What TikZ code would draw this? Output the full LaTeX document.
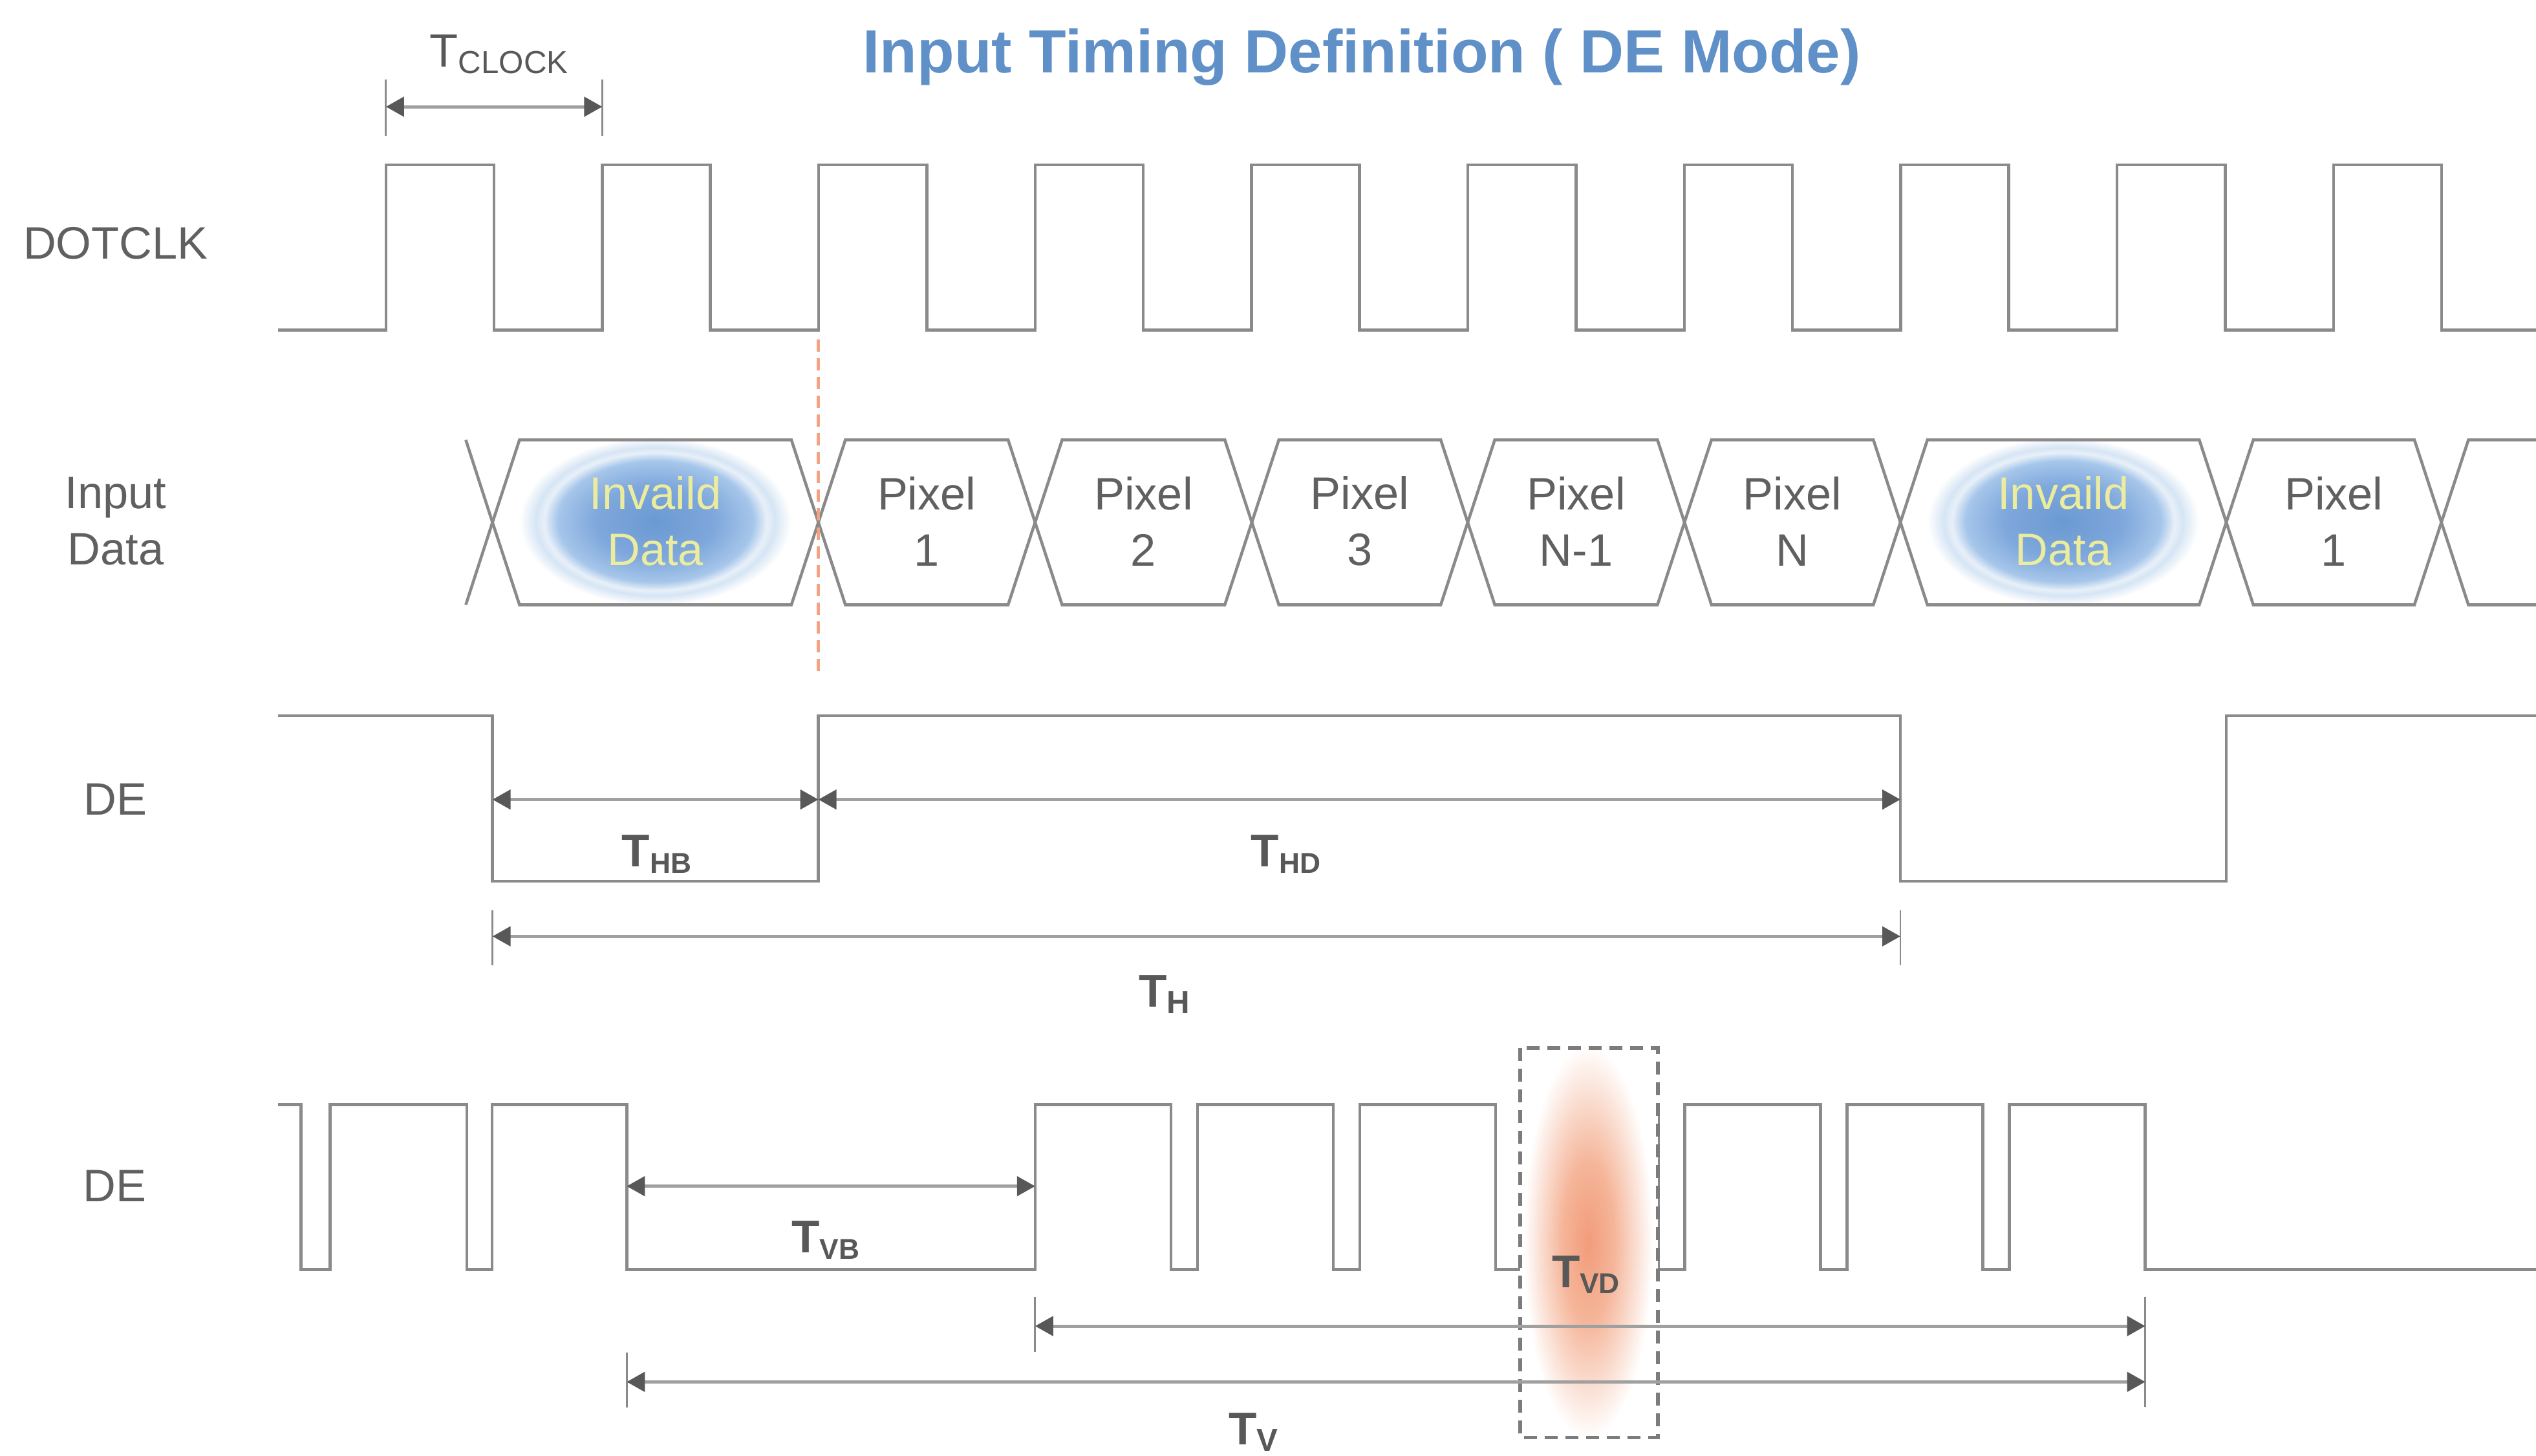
\documentclass[tikz,border=0pt]{standalone}
\usepackage{fontspec}
\setmainfont{Liberation Sans}
\usepackage{tikz}
\usetikzlibrary{arrows.meta}
\definecolor{wavegray}{HTML}{8A8A8A}
\definecolor{dimgray}{HTML}{A0A0A0}
\definecolor{tipgray}{HTML}{585858}
\definecolor{labelgray}{HTML}{606060}
\definecolor{titleblue}{HTML}{6090C8}
\definecolor{invalidyellow}{HTML}{ECEC9E}
\definecolor{edgesalmon}{HTML}{F2A384}
\definecolor{boxgray}{HTML}{7C7C7C}
\definecolor{glowblue}{HTML}{6A99D2}
\definecolor{glowblueA}{HTML}{7FA8DC}
\definecolor{glowblueB}{HTML}{A6C6EA}
\definecolor{glowblueC}{HTML}{E8F0F9}
\definecolor{glowblueD}{HTML}{D6E5F4}
\definecolor{glowred}{HTML}{F29C7A}
\definecolor{glowredA}{HTML}{F5B599}
\definecolor{glowredB}{HTML}{FADCCF}
\pgfdeclareradialshading{invalidglow}{\pgfpoint{0bp}{0bp}}{%
  color(0bp)=(glowblue); color(11bp)=(glowblueA); color(18bp)=(glowblueB);
  color(20.5bp)=(glowblueC); color(22bp)=(glowblueD); color(25bp)=(white); color(50bp)=(white)}
\pgfdeclareradialshading{vdglow}{\pgfpoint{0bp}{0bp}}{%
  color(0bp)=(glowred); color(10bp)=(glowredA); color(18bp)=(glowredB);
  color(25bp)=(white); color(50bp)=(white)}
% one bus cell between two crossings
\newcommand{\buscell}[2]{%
  \draw[wavepath] (#1,323) -- (#1+16.7,272) -- (#2-16.7,272) -- (#2,323)
    -- (#2-16.7,374) -- (#1+16.7,374) -- cycle;
}
% T with a lowered index
\newcommand{\tsub}[2][12.6]{T\raisebox{-2.7pt}{\fontsize{#1}{#1}\selectfont #2}}

\begin{document}
\begin{tikzpicture}[x=0.025cm, y=-0.025cm,
    wavepath/.style={draw=wavegray, line width=1.3pt},
    dimarrow/.style={draw=dimgray, line width=1.4pt,
      >={Triangle[length=0.28cm,width=0.3cm,color=tipgray]}, <->},
    extline/.style={draw=wavegray, line width=0.8pt},
    rowlabel/.style={font=\fontsize{20}{24.7}\selectfont, text=labelgray,
      inner sep=0pt, align=center},
    cellnode/.style={font=\fontsize{20}{24.7}\selectfont, text=labelgray,
      inner sep=0pt, align=center},
    tlabel/.style={font=\fontsize{20.2}{20}\selectfont\bfseries, text=tipgray,
      inner sep=0pt, anchor=base}]
    \fill[white] (0,0) rectangle (1568,900);
    \useasboundingbox (0,0) rectangle (1568,900);

    % Title
    \node[font=\fontsize{26.8}{26.8}\selectfont\bfseries, text=titleblue,
      inner sep=0pt, anchor=base] (title) at (842,45) {Input Timing Definition ( DE Mode)};

    % DOTCLK
    \node[rowlabel, anchor=base] (dotclk) at (71.5,160.3) {DOTCLK};
    \draw[wavepath] (172,204) foreach \k in {0,...,9} {
      -- ({238.6+133.8*\k},204) -- ++(0,-102) -- ++(66.8,0) -- ++(0,102) } -- (1568,204);
    \coordinate (clkA) at (238.6,66);
    \coordinate (clkB) at (372.4,66);
    \draw[extline] (clkA) ++(0,-17) -- ++(0,35);
    \draw[extline] (clkB) ++(0,-17) -- ++(0,35);
    \draw[dimarrow] (clkA) -- (clkB);
    \node[tlabel, font=\fontsize{20.5}{20}\selectfont] (tclock) at (308.5,41.4) {\tsub[14]{CLOCK}};

    % Input Data
    \node[rowlabel] (inputdata) at (71.5,322.3) {Input\\Data};
    \shade[shading=invalidglow] (405.25,322.5) ellipse (84 and 52);
    \shade[shading=invalidglow] (1275.75,322.5) ellipse (84 and 52);
    \draw[wavepath] (288,272) -- (304.5,323) -- (288,374);
    \foreach \a/\b in {304.5/506, 506/640, 640/774, 774/907.5, 907.5/1041.5,
      1041.5/1175, 1175/1376.5, 1376.5/1509.5} {\buscell{\a}{\b}}
    \draw[wavepath] (1568,272) -- (1526.2,272) -- (1509.5,323) -- (1526.2,374) -- (1568,374);
    \node[cellnode, text=invalidyellow] (inv1) at (405.25,322.3) {Invaild\\Data};
    \node[cellnode] (pix1) at (573,322.3) {Pixel\\1};
    \node[cellnode] (pix2) at (707,322.3) {Pixel\\2};
    \node[cellnode] (pix3) at (840.75,322.3) {Pixel\\3};
    \node[cellnode] (pixNm) at (974.5,322.3) {Pixel\\N-1};
    \node[cellnode] (pixN) at (1108.25,322.3) {Pixel\\N};
    \node[cellnode, text=invalidyellow] (inv2) at (1275.75,322.3) {Invaild\\Data};
    \node[cellnode] (pix1b) at (1443,322.3) {Pixel\\1};
    \coordinate (syncT) at (506,210);
    \coordinate (syncB) at (506,418);
    \draw[draw=edgesalmon, line width=1.4pt, dash pattern=on 0.19cm off 0.1cm] (syncT) -- (syncB);

    % DE, one line
    \node[rowlabel, anchor=base] (deline) at (71.5,504) {DE};
    \draw[wavepath] (172,442.5) -- (304.5,442.5) -- (304.5,545) -- (506,545) -- (506,442.5)
      -- (1175,442.5) -- (1175,545) -- (1376.5,545) -- (1376.5,442.5) -- (1568,442.5);
    \coordinate (hbL) at (304.5,494.4);
    \coordinate (hbR) at (506,494.4);
    \coordinate (hdR) at (1175,494.4);
    \draw[dimarrow] (hbL) -- (hbR);
    \draw[dimarrow] (hbR) -- (hdR);
    \node[tlabel] (thb) at (406,536) {\tsub{HB}};
    \node[tlabel] (thd) at (795,536) {\tsub{HD}};
    \coordinate (thL) at (304.5,579);
    \coordinate (thR) at (1175,579);
    \draw[extline] (thL) ++(0,-16) -- ++(0,34);
    \draw[extline] (thR) ++(0,-16) -- ++(0,34);
    \draw[dimarrow] (thL) -- (thR);
    \node[tlabel] (th) at (720,622.7) {\tsub[14]{H}};

    % DE, one frame
    \node[rowlabel, anchor=base] (deframe) at (71,743) {DE};
    \draw[wavepath] (172,683) -- (186,683) -- (186,785) -- (204,785) -- (204,683)
      -- (288.6,683) -- (288.6,785) -- (304.3,785) -- (304.3,683) -- (387.5,683)
      -- (387.5,785) foreach \r in {640,740.4,840.8,941.2,1041.6,1142,1242.4} {
      -- (\r,785) -- (\r,683) -- ({\r+84},683) -- ({\r+84},785) } -- (1568,785);
    \filldraw[fill=white, draw=none] (940,648) rectangle (1025,889);
    \shade[shading=vdglow] (982,768) ellipse (40 and 122);
    \draw[draw=boxgray, line width=1.6pt, dash pattern=on 0.2cm off 0.12cm] (940,648) rectangle (1025,889);
    \coordinate (vbL) at (387.5,733.5);
    \coordinate (vbR) at (640,733.5);
    \draw[dimarrow] (vbL) -- (vbR);
    \node[tlabel] (tvb) at (510.5,774.7) {\tsub{VB}};
    \coordinate (vdL) at (640,820);
    \coordinate (vdR) at (1326.4,820);
    \coordinate (vL) at (387.5,854.5);
    \coordinate (vR) at (1326.4,854.5);
    \draw[extline] (vdL) ++(0,-18) -- ++(0,34);
    \draw[extline] (vdR) ++(0,-18) -- ++(0,68);
    \draw[extline] (vL) ++(0,-18) -- ++(0,34);
    \draw[dimarrow] (vdL) -- (vdR);
    \draw[dimarrow] (vL) -- (vR);
    \node[tlabel] (tvd) at (980.5,796) {\tsub{VD}};
    \node[tlabel] (tv) at (775,893.5) {\tsub[14]{V}};
\end{tikzpicture}
\end{document}
